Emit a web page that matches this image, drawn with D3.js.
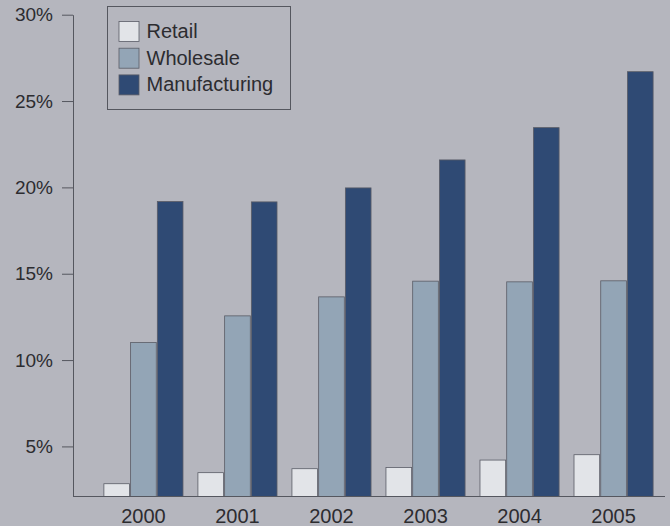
<!DOCTYPE html>
<html>
<head>
<meta charset="utf-8">
<script src="https://cdn.jsdelivr.net/npm/d3@7"></script>
<style>
  body { margin: 0; background: #b5b6be; }
  svg { display: block; font-family: "Liberation Sans", Arial, sans-serif; }
</style>
</head>
<body>
<div id="chart"></div>
<script>
// data
const years = ['2000', '2001', '2002', '2003', '2004', '2005'];
const series = ['Retail', 'Wholesale', 'Manufacturing'];
const retail = [2.84, 3.48, 3.71, 3.78, 4.21, 4.52];
const wholesale = [11.02, 12.56, 13.66, 14.57, 14.53, 14.59];
const manufacturing = [19.18, 19.16, 19.97, 21.59, 23.46, 26.7];
const yTicks = [5, 10, 15, 20, 25, 30];

const values = { Retail: retail, Wholesale: wholesale, Manufacturing: manufacturing };
const colors = { Retail: '#e2e4e8', Wholesale: '#93a5b6', Manufacturing: '#2f4a74' };

const width = 670, height = 526;
const axisX = 73, baseY = 496.5, topY = 14.7;

const svg = d3.select('#chart').append('svg')
  .attr('width', width)
  .attr('height', height);

svg.append('rect')
  .attr('width', width).attr('height', height)
  .attr('fill', '#b5b6be');

const x = d3.scaleBand()
  .domain(years)
  .range([89, 668])
  .paddingInner(0.136)
  .paddingOuter(0.147);

const xSub = d3.scaleBand()
  .domain(series)
  .range([0, x.bandwidth()])
  .padding(0.04);

const y = d3.scaleLinear()
  .domain([2.1, 30])
  .range([baseY, topY]);

// bars
const groups = svg.append('g').selectAll('g')
  .data(years)
  .enter()
  .append('g')
  .attr('transform', d => 'translate(' + x(d) + ',0)');

groups.selectAll('rect')
  .data((yr, i) => series.map(s => ({ s: s, v: values[s][i] })))
  .enter()
  .append('rect')
  .attr('x', d => xSub(d.s))
  .attr('y', d => y(d.v))
  .attr('width', xSub.bandwidth())
  .attr('height', d => baseY - y(d.v))
  .attr('fill', d => colors[d.s])
  .attr('stroke', '#5a5c66')
  .attr('stroke-width', 0.8);

// y axis
const yAxis = svg.append('g')
  .attr('transform', 'translate(' + axisX + ',0)')
  .call(d3.axisLeft(y)
    .tickValues(yTicks)
    .tickSize(11)
    .tickSizeOuter(0)
    .tickPadding(9)
    .tickFormat(d => d + '%'));
yAxis.selectAll('path, line').attr('stroke', '#55575f');
yAxis.selectAll('text')
  .attr('fill', '#2c2c30')
  .style('font-size', '19px');

// x axis (labels only) and baseline
const xAxis = svg.append('g')
  .attr('transform', 'translate(0,' + baseY + ')')
  .call(d3.axisBottom(x).tickSize(0).tickPadding(12));
xAxis.select('.domain').remove();
xAxis.selectAll('text')
  .attr('fill', '#2c2c30')
  .style('font-size', '20px');

svg.append('line')
  .attr('x1', axisX).attr('x2', 665)
  .attr('y1', baseY).attr('y2', baseY)
  .attr('stroke', '#55575f')
  .attr('stroke-width', 1.2);

// legend
const legend = svg.append('g');
legend.append('rect')
  .attr('x', 107.5).attr('y', 6.5)
  .attr('width', 183).attr('height', 103)
  .attr('fill', 'none')
  .attr('stroke', '#55575f');

const item = legend.selectAll('g.item')
  .data(series)
  .enter()
  .append('g')
  .attr('class', 'item')
  .attr('transform', (d, i) => 'translate(119,' + (21.5 + i * 26.7) + ')');

item.append('rect')
  .attr('width', 20).attr('height', 20)
  .attr('fill', d => colors[d])
  .attr('stroke', '#5a5c66')
  .attr('stroke-width', 0.8);

item.append('text')
  .attr('x', 27.5)
  .attr('y', 16.5)
  .attr('fill', '#2c2c30')
  .style('font-size', '20px')
  .text(d => d);
</script>
</body>
</html>
